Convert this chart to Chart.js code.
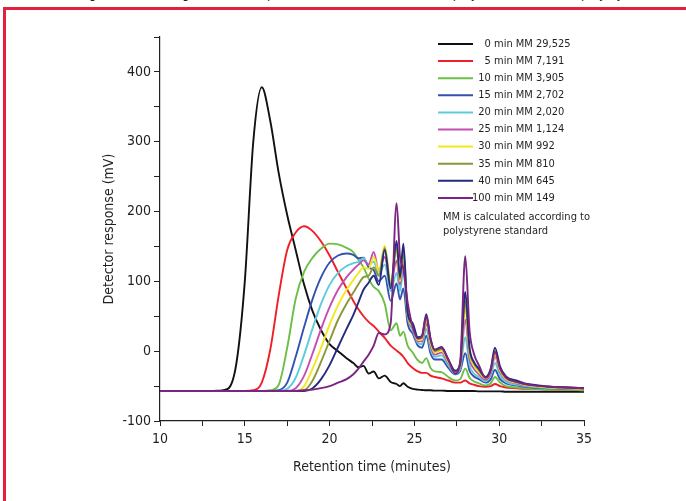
<!DOCTYPE html>
<html><head><meta charset="utf-8">
<script src="https://cdn.jsdelivr.net/npm/chart.js@4.4.1/dist/chart.umd.min.js"></script>
<style>
html,body{margin:0;padding:0;background:#fff;overflow:hidden;width:686px;height:501px;}
#frame{position:absolute;left:3px;top:7px;width:720px;height:600px;border-left:3px solid #e5203d;border-top:3px solid #e5203d;}
#cut{position:absolute;left:0;top:-14px;width:686px;text-align:center;font:13px 'DejaVu Sans Condensed',sans-serif;line-height:16px;color:#222;white-space:nowrap;}
#wrap{position:absolute;left:0;top:0;width:686px;height:501px;}
</style></head>
<body>
<div id="cut">Chromatograms of the degradation samples over time: from the initial (polymer) to the final (polystyrene)</div>
<div id="frame"></div>
<div id="wrap"><canvas id="c" width="686" height="501"></canvas></div>
<script>
const FONT = "'Liberation Sans Narrow','DejaVu Sans Condensed',sans-serif";

const times = [10,11,12,13,13.5,14,14.5,15,15.5,16, 16.5,17,17.5,18,18.5,19,19.5,20,20.5,21,
  21.4,21.7,22,22.3,22.6,22.9,23.25,23.6,23.95,24.15, 24.35,24.6,24.9,25.2,25.45,25.7,25.95,26.2,26.6,27,
  27.4,27.7,28,28.25,28.5,28.8,29.2,29.5,29.75,30.05, 30.4,31,31.5,32,33,34,35];

const min0 = [-57,-57,-57,-57,-56.5,-54,-18,100,300,378, 330,255,195,145,95,57,30,10,0,-10,
  -17,-23,-21,-32,-29,-39,-35,-44,-47,-50, -46,-51,-54,-55,-55.5,-56,-56,-56.5,-56.5,-57,
  -57,-57,-57,-57,-57,-57.5,-57.5,-57.5,-57.5,-57.5, -58,-58,-58,-58,-58,-58,-58];
const min5 = [-57,-57,-57,-57,-57,-57,-57,-57,-56,-45, 2,80,145,170,179,172,157,137,113,90,
  72,60,50,42,36,28,19,8,1,-3, -8,-17,-24,-29,-31,-31,-35,-37,-39,-42,
  -45,-45,-42,-46,-48,-50,-51,-50,-47,-50, -52,-53,-54,-54,-55,-55,-56];
const min10 = [-57,-57,-57,-57,-57,-57,-57,-57,-57,-57, -56,-48,5,75,114,134,147,154,153,148,
  142,131,120,104,92,86,68,30,40,22, 28,8,-2,-13,-17,-10,-24,-29,-30,-37,
  -42,-40,-25,-38,-43,-46,-49,-46,-37,-45, -50,-52,-53,-54,-55,-55,-56];
const min15 = [-57,-57,-57,-57,-57,-57,-57,-57,-57,-57, -57,-56,-45,-8,35,75,106,127,137,140,
  138,133,134,120,116,100,108,72,97,74, 90,40,25,8,5,22,-3,-12,-12,-24,
  -33,-28,-3,-28,-36,-40,-45,-40,-27,-40, -46,-49,-51,-52,-53,-54,-54];
const min20 = [-57,-57,-57,-57,-57,-57,-57,-57,-57,-57, -57,-57,-54,-38,-5,33,68,95,112,122,
  126,128,133,124,128,110,124,86,112,86, 115,50,30,12,10,32,3,-8,-6,-20,
  -32,-25,20,-20,-32,-37,-43,-35,-17,-35, -44,-48,-50,-51,-53,-53,-54];
const min25 = [-57,-57,-57,-57,-57,-57,-57,-57,-57,-57, -57,-57,-57,-53,-35,-3,32,63,88,106,
  117,124,130,124,142,115,135,95,130,95, 130,52,33,14,14,40,8,-5,-2,-17,
  -30,-22,45,-10,-25,-33,-41,-31,-8,-30, -41,-46,-49,-50,-52,-53,-54];
const min30 = [-57,-57,-57,-57,-57,-57,-57,-57,-57,-57, -57,-57,-57,-57,-50,-25,5,38,66,88,
  102,112,120,118,135,115,151,100,145,100, 140,53,35,16,17,45,12,-2,1,-15,
  -29,-20,61,-3,-20,-30,-39,-29,-5,-28, -40,-45,-48,-50,-52,-53,-54];
const min35 = [-57,-57,-57,-57,-57,-57,-57,-57,-57,-57, -57,-57,-57,-57,-56,-42,-15,15,45,68,
  84,96,106,108,120,108,148,95,150,103, 145,54,37,18,19,48,15,0,3,-13,
  -28,-19,72,1,-17,-27,-38,-27,0,-25, -38,-44,-47,-49,-51,-52,-53];
const min40 = [-57,-57,-57,-57,-57,-57,-57,-57,-57,-57, -57,-57,-57,-57,-57,-53,-40,-20,6,32,
  52,70,88,98,108,95,145,90,158,106, 154,55,40,20,22,53,18,2,6,-12,
  -28,-18,85,5,-15,-25,-37,-25,5,-22, -36,-42,-46,-48,-51,-52,-53];
const min100 = [-57,-57,-57,-57,-57,-57,-57,-57,-57,-57, -57,-57,-57,-57,-56,-55,-53,-50,-45,-40,
  -33,-25,-15,-5,8,26,24,40,212,135, 118,70,35,18,22,50,18,2,5,-12,
  -32,-15,136,30,-3,-20,-38,-28,-1,-25, -38,-44,-47,-49,-51,-52,-53];

const seriesLabels = ['0 min MM 29,525','5 min MM 7,191','10 min MM 3,905','15 min MM 2,702','20 min MM 2,020',
  '25 min MM 1,124','30 min MM 992','35 min MM 810','40 min MM 645','100 min MM 149'];
const seriesValues = [min0,min5,min10,min15,min20,min25,min30,min35,min40,min100];
const seriesColors = ['#111111','#f01e28','#6cbf45','#3352b0','#5ccbdc','#c24fae','#f3e81e','#8b963a','#262a7c','#7a2483'];
const yTicksMajor = [-100,0,100,200,300,400];
const xTicksMajor = [10,15,20,25,30,35];
const noteLines = ['MM is calculated according to','polystyrene standard'];

const datasets = seriesValues.map((vals,i)=>({
  label: seriesLabels[i],
  data: times.map((t,k)=>({x:t,y:vals[k]})),
  borderColor: seriesColors[i],
  borderWidth: 1.9,
  pointRadius: 0,
  fill: false,
  cubicInterpolationMode: 'monotone',
  order: seriesValues.length - i
}));

const legendPlugin = {
  id: 'customLegend',
  afterDraw(chart){
    const ctx = chart.ctx;
    ctx.save();
    ctx.font = "11px " + FONT;
    ctx.textBaseline = 'middle';
    const y0 = 44, dy = 17.1;
    seriesLabels.forEach((lab,i)=>{
      const y = y0 + i*dy;
      ctx.strokeStyle = seriesColors[i];
      ctx.lineWidth = 2;
      ctx.beginPath(); ctx.moveTo(438,y); ctx.lineTo(473,y); ctx.stroke();
      const sp = lab.indexOf(' ');
      const num = lab.slice(0,sp+1);
      const w = ctx.measureText(num).width;
      ctx.fillStyle = '#231f20';
      ctx.textAlign = 'left';
      ctx.fillText(lab, 494 - w, y);
    });
    ctx.font = "11px " + FONT;
    noteLines.forEach((l,i)=>{ ctx.fillText(l, 443, 217 + i*14); });
    ctx.restore();
  }
};

new Chart(document.getElementById('c'), {
  type: 'line',
  data: { datasets },
  plugins: [legendPlugin],
  options: {
    responsive: false,
    animation: false,
    events: [],
    layout: { padding: { left: 97, right: 102, top: 37, bottom: 21 } },
    plugins: { legend: { display: false }, tooltip: { enabled: false } },
    scales: {
      x: {
        type: 'linear', min: 10, max: 35,
        afterFit(s){ s.height = 59; },
        afterBuildTicks(s){ const a=[]; for(let v=10; v<=35.001; v+=2.5) a.push({value:v}); s.ticks=a; },
        border: { display: true, color: '#231f20', width: 1.2 },
        grid: { drawOnChartArea: false, drawTicks: true, tickLength: 5, color: '#231f20', lineWidth: 1 },
        ticks: { padding: 5, color: '#231f20', font: { family: FONT, size: 14 }, maxRotation: 0, autoSkip: false,
          callback: v => xTicksMajor.includes(v) ? String(v) : '' },
        title: { display: true, text: 'Retention time (minutes)', color: '#231f20', font: { family: FONT, size: 14 } }
      },
      y: {
        type: 'linear', min: -100, max: 450,
        afterFit(s){ s.width = 63; },
        afterBuildTicks(s){ const a=[]; for(let v=-100; v<=450; v+=50) a.push({value:v}); s.ticks=a; },
        border: { display: true, color: '#231f20', width: 1.2 },
        grid: { drawOnChartArea: false, drawTicks: true, tickLength: 6, color: '#231f20', lineWidth: 1 },
        ticks: { padding: 3, color: '#231f20', font: { family: FONT, size: 14 }, autoSkip: false,
          callback: v => yTicksMajor.includes(v) ? String(v) : '' },
        title: { display: true, text: 'Detector response (mV)', color: '#231f20', font: { family: FONT, size: 14 } }
      }
    }
  }
});
</script>
</body></html>
